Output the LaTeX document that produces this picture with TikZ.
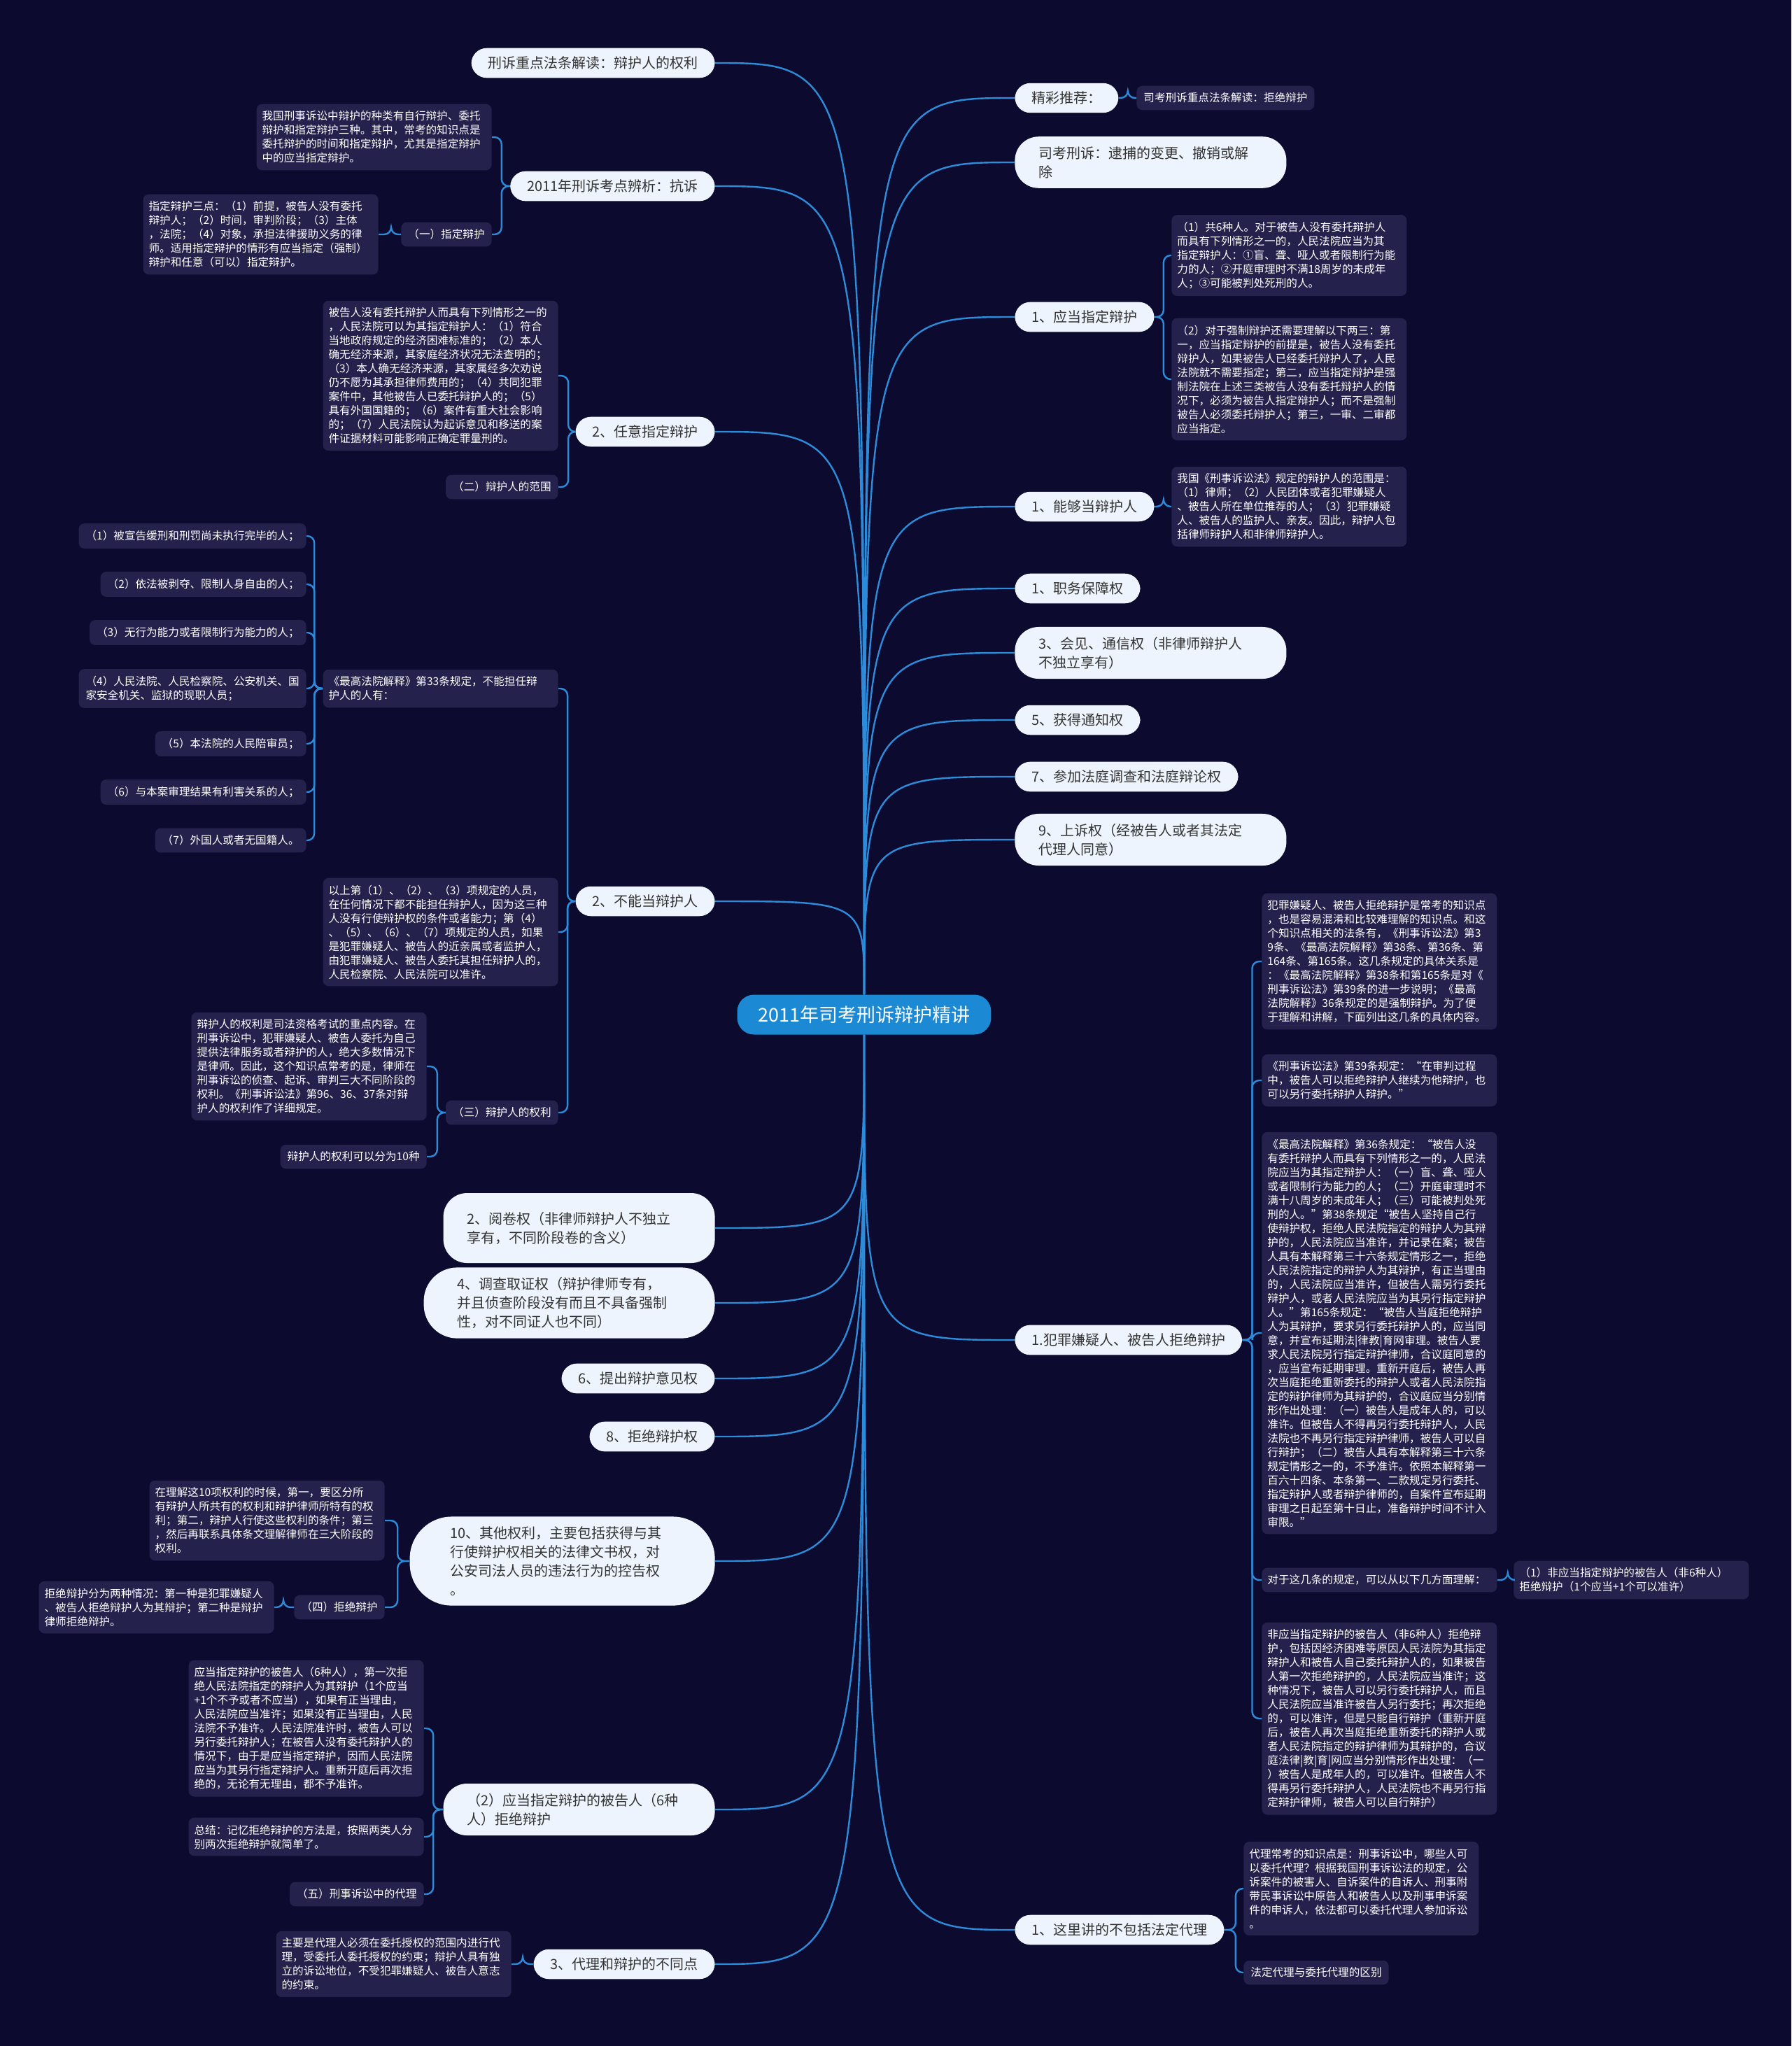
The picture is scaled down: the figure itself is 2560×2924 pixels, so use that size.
\documentclass[tikz,border=0pt]{standalone}
\usepackage{fontspec}
\setmainfont{Noto Sans CJK SC}
\usetikzlibrary{positioning, calc}
\definecolor{bgnavy}{RGB}{12, 10, 46}
\definecolor{hubblue}{RGB}{28, 137, 212}
\definecolor{linkblue}{RGB}{44, 140, 218}
\definecolor{pillbg}{RGB}{238, 244, 253}
\definecolor{pilltext}{RGB}{51, 51, 51}
\definecolor{leafbg}{RGB}{36, 33, 76}

\begin{document}
\begin{tikzpicture}[
    x=0.5pt, y=-0.5pt,
    hub/.style={fill=hubblue, text=white, rounded corners=12pt,
                inner xsep=15pt, inner ysep=8pt, font=\fontsize{13.5pt}{16pt}\selectfont},
    branch/.style={fill=pillbg, text=pilltext, rounded corners=11pt,
                   inner xsep=12pt, inner ysep=6pt, font=\fontsize{10pt}{13.5pt}\selectfont},
    branchwide/.style={branch, text width=160pt, align=left,
                       inner xsep=17pt, inner ysep=7pt, rounded corners=17pt},
    leaf/.style={fill=leafbg, text=white, rounded corners=4pt, inner xsep=5pt,
                 inner ysep=5pt, align=left, font=\fontsize{7.8pt}{10pt}\selectfont},
    leafwide/.style={leaf, text width=160pt, inner xsep=4pt},
    link/.style={draw=linkblue, line width=1.2pt},
    fork/.style={link, rounded corners=5pt}
]
    \fill[bgnavy] (0,0) rectangle (2560,2924);
    \useasboundingbox (0,0) rectangle (2560,2924);

    % Nodes
    \node[hub] (core) at (1235,1450) {2011年司考刑诉辩护精讲};

    % left branches
    \node[branch, anchor=east] (rights) at (1022,90) {刑诉重点法条解读：辩护人的权利};
    \node[branch, anchor=east] (protest) at (1022,266) {2011年刑诉考点辨析：抗诉};
    \node[branch, anchor=east] (optional) at (1022,617) {2、任意指定辩护};
    \node[branch, anchor=east] (unfit) at (1022,1288) {2、不能当辩护人};
    \node[branchwide, anchor=east, minimum height=50pt] (readfile) at (1022,1755) {2、阅卷权（非律师辩护人不独立\\享有，不同阶段卷的含义）};
    \node[branchwide, anchor=east, inner xsep=24pt, rounded corners=24pt] (evidence) at (1022,1862) {4、调查取证权（辩护律师专有，\\并且侦查阶段没有而且不具备强制\\性，对不同证人也不同）};
    \node[branch, anchor=east] (opinion) at (1022,1970) {6、提出辩护意见权};
    \node[branch, anchor=east] (refuseright) at (1022,2053) {8、拒绝辩护权};
    \node[branchwide, anchor=east, inner xsep=29pt, rounded corners=30pt] (otherright) at (1022,2231) {10、其他权利，主要包括获得与其\\行使辩护权相关的法律文书权，对\\公安司法人员的违法行为的控告权\\。};
    \node[branchwide, anchor=east] (mustrefuse) at (1022,2586) {（2）应当指定辩护的被告人（6种\\人）拒绝辩护};
    \node[branch, anchor=east] (agencydiff) at (1022,2807) {3、代理和辩护的不同点};

    % right branches
    \node[branch, anchor=west] (recommend) at (1450,140) {精彩推荐：};
    \node[branchwide, anchor=west] (arrest) at (1450,232) {司考刑诉：逮捕的变更、撤销或解\\除};
    \node[branch, anchor=west] (mustassign) at (1450,453) {1、应当指定辩护};
    \node[branch, anchor=west] (canserve) at (1450,724) {1、能够当辩护人};
    \node[branch, anchor=west] (dutyright) at (1450,841) {1、职务保障权};
    \node[branchwide, anchor=west] (meetright) at (1450,933) {3、会见、通信权（非律师辩护人\\不独立享有）};
    \node[branch, anchor=west] (noticeright) at (1450,1029) {5、获得通知权};
    \node[branch, anchor=west] (courtright) at (1450,1110) {7、参加法庭调查和法庭辩论权};
    \node[branchwide, anchor=west] (appealright) at (1450,1200) {9、上诉权（经被告人或者其法定\\代理人同意）};
    \node[branch, anchor=west] (refusal) at (1450,1915) {1.犯罪嫌疑人、被告人拒绝辩护};
    \node[branch, anchor=west] (noagent) at (1450,2758) {1、这里讲的不包括法定代理};

    % left leaves
    \node[leafwide, anchor=east] (assigntypes) at (703,196) {我国刑事诉讼中辩护的种类有自行辩护、委托\\辩护和指定辩护三种。其中，常考的知识点是\\委托辩护的时间和指定辩护，尤其是指定辩护\\中的应当指定辩护。};
    \node[leaf, anchor=east] (assignone) at (703,335) {（一）指定辩护};
    \node[leafwide, anchor=east] (assignthree) at (541,335) {指定辩护三点：（1）前提，被告人没有委托\\辩护人；（2）时间，审判阶段；（3）主体\\，法院；（4）对象，承担法律援助义务的律\\师。适用指定辩护的情形有应当指定（强制）\\辩护和任意（可以）指定辩护。};
    \node[leafwide, anchor=east] (optcases) at (798,537) {被告人没有委托辩护人而具有下列情形之一的\\，人民法院可以为其指定辩护人：（1）符合\\当地政府规定的经济困难标准的；（2）本人\\确无经济来源，其家庭经济状况无法查明的；\\（3）本人确无经济来源，其家属经多次劝说\\仍不愿为其承担律师费用的；（4）共同犯罪\\案件中，其他被告人已委托辩护人的；（5）\\具有外国国籍的；（6）案件有重大社会影响\\的；（7）人民法院认为起诉意见和移送的案\\件证据材料可能影响正确定罪量刑的。};
    \node[leaf, anchor=east] (scope) at (798,696) {（二）辩护人的范围};
    \node[leafwide, anchor=east] (rule33) at (798,984) {《最高法院解释》第33条规定，不能担任辩\\护人的人有：};
    \node[leaf, anchor=east] (ban1) at (438,766) {（1）被宣告缓刑和刑罚尚未执行完毕的人；};
    \node[leaf, anchor=east] (ban2) at (438,835) {（2）依法被剥夺、限制人身自由的人；};
    \node[leaf, anchor=east] (ban3) at (438,904) {（3）无行为能力或者限制行为能力的人；};
    \node[leaf, anchor=east] (ban4) at (438,984) {（4）人民法院、人民检察院、公安机关、国\\家安全机关、监狱的现职人员；};
    \node[leaf, anchor=east] (ban5) at (438,1063) {（5）本法院的人民陪审员；};
    \node[leaf, anchor=east] (ban6) at (438,1132) {（6）与本案审理结果有利害关系的人；};
    \node[leaf, anchor=east] (ban7) at (438,1201) {（7）外国人或者无国籍人。};
    \node[leafwide, anchor=east] (banexcept) at (798,1332) {以上第（1）、（2）、（3）项规定的人员，\\在任何情况下都不能担任辩护人，因为这三种\\人没有行使辩护权的条件或者能力；第（4）\\、（5）、（6）、（7）项规定的人员，如果\\是犯罪嫌疑人、被告人的近亲属或者监护人，\\由犯罪嫌疑人、被告人委托其担任辩护人的，\\人民检察院、人民法院可以准许。};
    \node[leaf, anchor=east] (rightsthree) at (798,1590) {（三）辩护人的权利};
    \node[leafwide, anchor=east] (rightsintro) at (610,1524) {辩护人的权利是司法资格考试的重点内容。在\\刑事诉讼中，犯罪嫌疑人、被告人委托为自己\\提供法律服务或者辩护的人，绝大多数情况下\\是律师。因此，这个知识点常考的是，律师在\\刑事诉讼的侦查、起诉、审判三大不同阶段的\\权利。《刑事诉讼法》第96、36、37条对辩\\护人的权利作了详细规定。};
    \node[leaf, anchor=east] (rightsten) at (610,1653) {辩护人的权利可以分为10种};
    \node[leafwide, anchor=east] (tenrights) at (550,2173) {在理解这10项权利的时候，第一，要区分所\\有辩护人所共有的权利和辩护律师所特有的权\\利；第二，辩护人行使这些权利的条件；第三\\，然后再联系具体条文理解律师在三大阶段的\\权利。};
    \node[leaf, anchor=east] (refusefour) at (550,2297) {（四）拒绝辩护};
    \node[leafwide, anchor=east] (refusetwo) at (392,2297) {拒绝辩护分为两种情况：第一种是犯罪嫌疑人\\、被告人拒绝辩护人为其辩护；第二种是辩护\\律师拒绝辩护。};
    \node[leafwide, anchor=east] (sixrefuse) at (606,2470) {应当指定辩护的被告人（6种人），第一次拒\\绝人民法院指定的辩护人为其辩护（1个应当\\+1个不予或者不应当），如果有正当理由，\\人民法院应当准许；如果没有正当理由，人民\\法院不予准许。人民法院准许时，被告人可以\\另行委托辩护人；在被告人没有委托辩护人的\\情况下，由于是应当指定辩护，因而人民法院\\应当为其另行指定辩护人。重新开庭后再次拒\\绝的，无论有无理由，都不予准许。};
    \node[leafwide, anchor=east] (summary) at (606,2625) {总结：记忆拒绝辩护的方法是，按照两类人分\\别两次拒绝辩护就简单了。};
    \node[leaf, anchor=east] (agencyfive) at (606,2707) {（五）刑事诉讼中的代理};
    \node[leafwide, anchor=east] (agencynote) at (731,2807) {主要是代理人必须在委托授权的范围内进行代\\理，受委托人委托授权的约束；辩护人具有独\\立的诉讼地位，不受犯罪嫌疑人、被告人意志\\的约束。};

    % right leaves
    \node[leaf, anchor=west] (recolink) at (1624,140) {司考刑诉重点法条解读：拒绝辩护};
    \node[leafwide, anchor=west] (sixpeople) at (1674,365) {（1）共6种人。对于被告人没有委托辩护人\\而具有下列情形之一的，人民法院应当为其\\指定辩护人：①盲、聋、哑人或者限制行为能\\力的人；②开庭审理时不满18周岁的未成年\\人；③可能被判处死刑的人。};
    \node[leafwide, anchor=west] (forcenote) at (1674,542) {（2）对于强制辩护还需要理解以下两三：第\\一，应当指定辩护的前提是，被告人没有委托\\辩护人，如果被告人已经委托辩护人了，人民\\法院就不需要指定；第二，应当指定辩护是强\\制法院在上述三类被告人没有委托辩护人的情\\况下，必须为被告人指定辩护人；而不是强制\\被告人必须委托辩护人；第三，一审、二审都\\应当指定。};
    \node[leafwide, anchor=west] (scopelaw) at (1674,724) {我国《刑事诉讼法》规定的辩护人的范围是：\\（1）律师；（2）人民团体或者犯罪嫌疑人\\、被告人所在单位推荐的人；（3）犯罪嫌疑\\人、被告人的监护人、亲友。因此，辩护人包\\括律师辩护人和非律师辩护人。};
    \node[leafwide, anchor=west] (refintro) at (1803,1374) {犯罪嫌疑人、被告人拒绝辩护是常考的知识点\\，也是容易混淆和比较难理解的知识点。和这\\个知识点相关的法条有，《刑事诉讼法》第3\\9条、《最高法院解释》第38条、第36条、第\\164条、第165条。这几条规定的具体关系是\\：《最高法院解释》第38条和第165条是对《\\刑事诉讼法》第39条的进一步说明；《最高\\法院解释》36条规定的是强制辩护。为了便\\于理解和讲解，下面列出这几条的具体内容。};
    \node[leafwide, anchor=west] (art39) at (1803,1544) {《刑事诉讼法》第39条规定：“在审判过程\\中，被告人可以拒绝辩护人继续为他辩护，也\\可以另行委托辩护人辩护。”};
    \node[leafwide, anchor=west] (art36) at (1803,1905) {《最高法院解释》第36条规定：“被告人没\\有委托辩护人而具有下列情形之一的，人民法\\院应当为其指定辩护人：（一）盲、聋、哑人\\或者限制行为能力的人；（二）开庭审理时不\\满十八周岁的未成年人；（三）可能被判处死\\刑的人。”第38条规定“被告人坚持自己行\\使辩护权，拒绝人民法院指定的辩护人为其辩\\护的，人民法院应当准许，并记录在案；被告\\人具有本解释第三十六条规定情形之一，拒绝\\人民法院指定的辩护人为其辩护，有正当理由\\的，人民法院应当准许，但被告人需另行委托\\辩护人，或者人民法院应当为其另行指定辩护\\人。”第165条规定：“被告人当庭拒绝辩护\\人为其辩护，要求另行委托辩护人的，应当同\\意，并宣布延期法|律教|育网审理。被告人要\\求人民法院另行指定辩护律师，合议庭同意的\\，应当宣布延期审理。重新开庭后，被告人再\\次当庭拒绝重新委托的辩护人或者人民法院指\\定的辩护律师为其辩护的，合议庭应当分别情\\形作出处理：（一）被告人是成年人的，可以\\准许。但被告人不得再另行委托辩护人，人民\\法院也不再另行指定辩护律师，被告人可以自\\行辩护；（二）被告人具有本解释第三十六条\\规定情形之一的，不予准许。依照本解释第一\\百六十四条、本条第一、二款规定另行委托、\\指定辩护人或者辩护律师的，自案件宣布延期\\审理之日起至第十日止，准备辩护时间不计入\\审限。”};
    \node[leafwide, anchor=west] (understand) at (1803,2258) {对于这几条的规定，可以从以下几方面理解：};
    \node[leafwide, anchor=west] (nonsix) at (2163,2258) {（1）非应当指定辩护的被告人（非6种人）\\拒绝辩护（1个应当+1个可以准许）};
    \node[leafwide, anchor=west] (nonsixtext) at (1803,2456) {非应当指定辩护的被告人（非6种人）拒绝辩\\护，包括因经济困难等原因人民法院为其指定\\辩护人和被告人自己委托辩护人的，如果被告\\人第一次拒绝辩护的，人民法院应当准许；这\\种情况下，被告人可以另行委托辩护人，而且\\人民法院应当准许被告人另行委托；再次拒绝\\的，可以准许，但是只能自行辩护（重新开庭\\后，被告人再次当庭拒绝重新委托的辩护人或\\者人民法院指定的辩护律师为其辩护的，合议\\庭法律|教|育|网应当分别情形作出处理：（一\\）被告人是成年人的，可以准许。但被告人不\\得再另行委托辩护人，人民法院也不再另行指\\定辩护律师，被告人可以自行辩护）};
    \node[leafwide, anchor=west] (agentnote) at (1777,2699) {代理常考的知识点是：刑事诉讼中，哪些人可\\以委托代理？根据我国刑事诉讼法的规定，公\\诉案件的被害人、自诉案件的自诉人、刑事附\\带民事诉讼中原告人和被告人以及刑事申诉案\\件的申诉人，依法都可以委托代理人参加诉讼\\。};
    \node[leaf, anchor=west] (agentdiff) at (1777,2819) {法定代理与委托代理的区别};

    % Links from the centre
    \foreach \n in {rights, protest, optional, unfit}
        \draw[link] (core.north) .. controls (core.north |- \n.east) .. (\n.east);
    \foreach \n in {readfile, evidence, opinion, refuseright, otherright, mustrefuse, agencydiff}
        \draw[link] (core.south) .. controls (core.south |- \n.east) .. (\n.east);
    \foreach \n in {recommend, arrest, mustassign, canserve, dutyright, meetright, noticeright, courtright, appealright}
        \draw[link] (core.north) .. controls (core.north |- \n.west) .. (\n.west);
    \foreach \n in {refusal, noagent}
        \draw[link] (core.south) .. controls (core.south |- \n.west) .. (\n.west);

    % Forks on the left
    \foreach \c in {assigntypes, assignone}
        \draw[fork] (protest.west) -- ++(-12,0) |- (\c.east);
    \draw[fork] (assignone.west) -- ++(-14,0) |- (assignthree.east);
    \foreach \c in {optcases, scope}
        \draw[fork] (optional.west) -- ++(-10,0) |- (\c.east);
    \foreach \c in {rule33, banexcept, rightsthree}
        \draw[fork] (unfit.west) -- ++(-11,0) |- (\c.east);
    \foreach \c in {ban1, ban2, ban3, ban4, ban5, ban6, ban7}
        \draw[fork] (rule33.west) -- ++(-12,0) |- (\c.east);
    \foreach \c in {rightsintro, rightsten}
        \draw[fork] (rightsthree.west) -- ++(-12,0) |- (\c.east);
    \foreach \c in {tenrights, refusefour}
        \draw[fork] (otherright.west) -- ++(-17,0) |- (\c.east);
    \draw[fork] (refusefour.west) -- ++(-15,0) |- (refusetwo.east);
    \foreach \c in {sixrefuse, summary, agencyfive}
        \draw[fork] (mustrefuse.west) -- ++(-14,0) |- (\c.east);
    \draw[fork] (agencydiff.west) -- ++(-15,0) |- (agencynote.east);

    % Forks on the right
    \draw[fork] (recommend.east) -- ++(13,0) |- (recolink.west);
    \foreach \c in {sixpeople, forcenote}
        \draw[fork] (mustassign.east) -- ++(13,0) |- (\c.west);
    \draw[fork] (canserve.east) -- ++(13,0) |- (scopelaw.west);
    \foreach \c in {refintro, art39, art36, understand, nonsixtext}
        \draw[fork] (refusal.east) -- ++(14,0) |- (\c.west);
    \draw[fork] (understand.east) -- ++(15,0) |- (nonsix.west);
    \foreach \c in {agentnote, agentdiff}
        \draw[fork] (noagent.east) -- ++(16,0) |- (\c.west);
\end{tikzpicture}
\end{document}
